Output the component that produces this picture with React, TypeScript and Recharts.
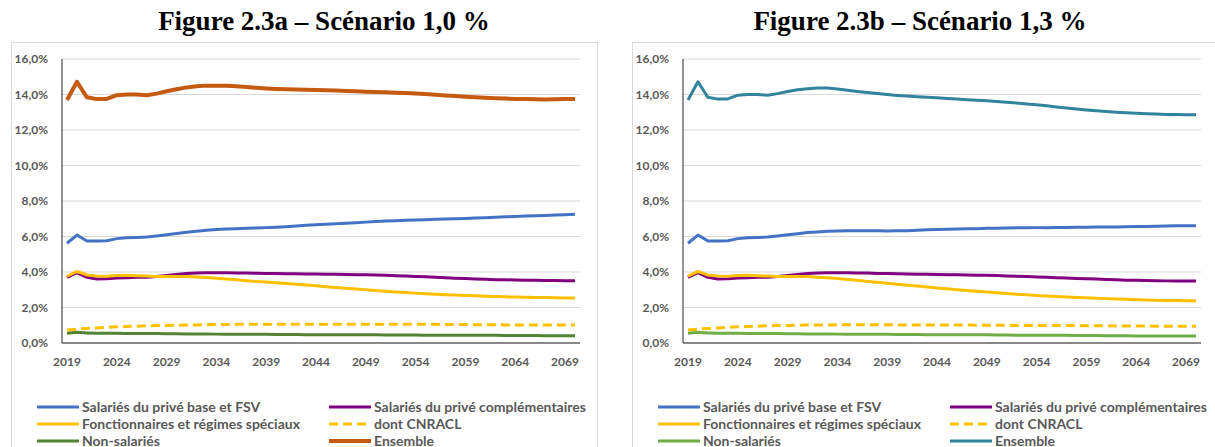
import { CartesianGrid, Legend, Line, LineChart, XAxis, YAxis } from 'recharts'

// years 2019-2070, one point per year
const years = [
  '2019', '2020', '2021', '2022', '2023', '2024', '2025', '2026', '2027', '2028',
  '2029', '2030', '2031', '2032', '2033', '2034', '2035', '2036', '2037', '2038',
  '2039', '2040', '2041', '2042', '2043', '2044', '2045', '2046', '2047', '2048',
  '2049', '2050', '2051', '2052', '2053', '2054', '2055', '2056', '2057', '2058',
  '2059', '2060', '2061', '2062', '2063', '2064', '2065', '2066', '2067', '2068',
  '2069', '2070',
]

const yTicks = [0, 2, 4, 6, 8, 10, 12, 14, 16]

// Scénario 1,0 %
const baseA = [
  5.62, 6.08, 5.75, 5.75, 5.76, 5.88, 5.93, 5.95, 5.97, 6.03,
  6.1, 6.17, 6.24, 6.3, 6.35, 6.39, 6.42, 6.44, 6.46, 6.48,
  6.5, 6.52, 6.55, 6.59, 6.63, 6.66, 6.69, 6.72, 6.75, 6.78,
  6.81, 6.84, 6.87, 6.89, 6.91, 6.93, 6.95, 6.97, 6.99, 7.0,
  7.02, 7.04, 7.06, 7.08, 7.11, 7.13, 7.15, 7.17, 7.19, 7.21,
  7.23, 7.25,
]
const complA = [
  3.7, 3.96, 3.7, 3.6, 3.62, 3.66, 3.68, 3.7, 3.7, 3.74,
  3.8, 3.86, 3.91, 3.94, 3.96, 3.96, 3.96, 3.95, 3.94, 3.93,
  3.92, 3.91, 3.9, 3.9, 3.89, 3.89, 3.88, 3.87, 3.86, 3.85,
  3.84, 3.83, 3.81, 3.79, 3.77, 3.75, 3.73, 3.7, 3.67, 3.65,
  3.63, 3.61, 3.59, 3.57, 3.56, 3.55, 3.54, 3.53, 3.52, 3.52,
  3.51, 3.51,
]
const fonctA = [
  3.76, 4.04, 3.83, 3.78, 3.76, 3.8, 3.81, 3.79, 3.77, 3.75,
  3.74, 3.74, 3.74, 3.72, 3.69, 3.65, 3.61, 3.56, 3.51, 3.47,
  3.43, 3.39, 3.35, 3.31, 3.27, 3.22, 3.17, 3.13, 3.08, 3.04,
  3.0, 2.96, 2.92, 2.88, 2.84, 2.81, 2.78, 2.75, 2.72, 2.7,
  2.68, 2.66, 2.64, 2.62, 2.6, 2.59, 2.58, 2.57, 2.56, 2.55,
  2.54, 2.54,
]
const cnraclA = [
  0.73, 0.78, 0.82, 0.85, 0.88, 0.91, 0.93, 0.95, 0.97, 0.98,
  0.99, 1.0, 1.01, 1.02, 1.03, 1.04, 1.04, 1.05, 1.05, 1.05,
  1.06, 1.06, 1.06, 1.06, 1.06, 1.06, 1.06, 1.06, 1.06, 1.06,
  1.06, 1.06, 1.06, 1.06, 1.05, 1.05, 1.05, 1.05, 1.04, 1.04,
  1.04, 1.03, 1.03, 1.03, 1.02, 1.02, 1.02, 1.02, 1.01, 1.01,
  1.01, 1.01,
]
const nonSalA = [
  0.55, 0.6, 0.57, 0.55, 0.55, 0.55, 0.54, 0.54, 0.53, 0.53,
  0.52, 0.52, 0.51, 0.51, 0.51, 0.5, 0.5, 0.5, 0.49, 0.49,
  0.49, 0.48, 0.48, 0.48, 0.47, 0.47, 0.47, 0.47, 0.46, 0.46,
  0.46, 0.46, 0.45, 0.45, 0.45, 0.45, 0.44, 0.44, 0.44, 0.44,
  0.43, 0.43, 0.43, 0.43, 0.42, 0.42, 0.42, 0.42, 0.41, 0.41,
  0.41, 0.41,
]
const ensA = [
  13.69, 14.72, 13.84, 13.74, 13.75, 13.96, 14.0, 14.0, 13.96, 14.05,
  14.18, 14.3, 14.4, 14.46, 14.5, 14.5, 14.49, 14.46, 14.42, 14.38,
  14.34, 14.31, 14.29, 14.28, 14.27, 14.26, 14.24, 14.22, 14.2, 14.18,
  14.16, 14.14, 14.12, 14.1, 14.08, 14.06, 14.03, 13.99, 13.95, 13.91,
  13.88, 13.85, 13.82, 13.79, 13.77, 13.75, 13.74, 13.73, 13.72, 13.73,
  13.74, 13.75,
]

// Scénario 1,3 %
const baseB = [
  5.62, 6.08, 5.75, 5.75, 5.76, 5.88, 5.93, 5.95, 5.97, 6.03,
  6.1, 6.16, 6.22, 6.26, 6.29, 6.31, 6.32, 6.33, 6.33, 6.32,
  6.31, 6.32, 6.33, 6.35, 6.38, 6.4, 6.41, 6.42, 6.43, 6.44,
  6.46, 6.47, 6.48, 6.49, 6.49, 6.5, 6.5, 6.51, 6.51, 6.52,
  6.52, 6.53, 6.54, 6.54, 6.55, 6.56, 6.57, 6.58, 6.59, 6.6,
  6.6, 6.61,
]
const complB = [
  3.7, 3.96, 3.7, 3.6, 3.62, 3.66, 3.68, 3.7, 3.7, 3.74,
  3.8, 3.86, 3.91, 3.94, 3.96, 3.96, 3.96, 3.95, 3.94, 3.92,
  3.91, 3.9, 3.89, 3.88, 3.87, 3.86, 3.85, 3.84, 3.83, 3.82,
  3.81, 3.8, 3.78, 3.76, 3.74, 3.72, 3.7, 3.68, 3.66, 3.64,
  3.62, 3.6, 3.58, 3.56, 3.54, 3.53, 3.52, 3.51, 3.5, 3.5,
  3.49, 3.49,
]
const fonctB = [
  3.76, 4.04, 3.83, 3.78, 3.76, 3.8, 3.81, 3.79, 3.77, 3.75,
  3.74, 3.74, 3.74, 3.71, 3.68, 3.63, 3.58, 3.53, 3.47, 3.42,
  3.37, 3.31, 3.26, 3.21, 3.15, 3.1, 3.05, 3.0, 2.96, 2.91,
  2.87, 2.83, 2.79, 2.75, 2.72, 2.68, 2.65, 2.62, 2.59, 2.57,
  2.55, 2.52, 2.5, 2.48, 2.46, 2.44, 2.42, 2.41, 2.4, 2.39,
  2.38, 2.38,
]
const cnraclB = [
  0.73, 0.78, 0.82, 0.85, 0.88, 0.91, 0.93, 0.95, 0.97, 0.98,
  0.99, 1.0, 1.01, 1.02, 1.02, 1.03, 1.03, 1.03, 1.03, 1.03,
  1.03, 1.02, 1.02, 1.02, 1.02, 1.01, 1.01, 1.01, 1.01, 1.0,
  1.0, 1.0, 1.0, 0.99, 0.99, 0.99, 0.99, 0.98, 0.98, 0.98,
  0.97, 0.97, 0.97, 0.96, 0.96, 0.96, 0.96, 0.95, 0.95, 0.95,
  0.95, 0.95,
]
const nonSalB = [
  0.55, 0.6, 0.57, 0.55, 0.55, 0.55, 0.54, 0.54, 0.53, 0.53,
  0.52, 0.52, 0.51, 0.51, 0.51, 0.5, 0.5, 0.5, 0.49, 0.49,
  0.49, 0.48, 0.48, 0.48, 0.47, 0.47, 0.47, 0.47, 0.46, 0.46,
  0.46, 0.45, 0.45, 0.44, 0.44, 0.44, 0.43, 0.43, 0.43, 0.42,
  0.42, 0.42, 0.41, 0.41, 0.41, 0.4, 0.4, 0.4, 0.4, 0.39,
  0.39, 0.39,
]
const ensB = [
  13.69, 14.72, 13.84, 13.74, 13.75, 13.96, 14.0, 14.0, 13.96, 14.05,
  14.17, 14.27, 14.33, 14.37, 14.36, 14.31, 14.24, 14.17, 14.11, 14.05,
  14.0, 13.95, 13.91, 13.88, 13.85, 13.82, 13.78, 13.74, 13.71, 13.68,
  13.65, 13.61, 13.57, 13.52, 13.47, 13.42, 13.36, 13.3, 13.24, 13.18,
  13.13, 13.08, 13.04, 13.0, 12.97, 12.94, 12.92, 12.9, 12.88, 12.87,
  12.86, 12.86,
]

type Series = {
  key: string
  name: string
  color: string
  width: number
  dash?: string
}

const labels = {
  base: 'Salariés du privé base et FSV',
  compl: 'Salariés du privé complémentaires',
  fonct: 'Fonctionnaires et régimes spéciaux',
  cnracl: 'dont CNRACL',
  nonSal: 'Non-salariés',
  ens: 'Ensemble',
}

const seriesA: Series[] = [
  { key: 'base', name: labels.base, color: '#4472C4', width: 3 },
  { key: 'compl', name: labels.compl, color: '#800080', width: 3 },
  { key: 'fonct', name: labels.fonct, color: '#FFC000', width: 3 },
  { key: 'cnracl', name: labels.cnracl, color: '#FFC000', width: 3, dash: '9 5' },
  { key: 'nonSal', name: labels.nonSal, color: '#548235', width: 3 },
  { key: 'ens', name: labels.ens, color: '#C55A11', width: 4 },
]

const seriesB: Series[] = [
  { key: 'base', name: labels.base, color: '#4472C4', width: 3 },
  { key: 'compl', name: labels.compl, color: '#800080', width: 3 },
  { key: 'fonct', name: labels.fonct, color: '#FFC000', width: 3 },
  { key: 'cnracl', name: labels.cnracl, color: '#FFC000', width: 3, dash: '9 5' },
  { key: 'nonSal', name: labels.nonSal, color: '#70AD47', width: 3 },
  { key: 'ens', name: labels.ens, color: '#31849B', width: 3 },
]

const dataA = years.map((year, i) => ({
  year,
  base: baseA[i],
  compl: complA[i],
  fonct: fonctA[i],
  cnracl: cnraclA[i],
  nonSal: nonSalA[i],
  ens: ensA[i],
}))

const dataB = years.map((year, i) => ({
  year,
  base: baseB[i],
  compl: complB[i],
  fonct: fonctB[i],
  cnracl: cnraclB[i],
  nonSal: nonSalB[i],
  ens: ensB[i],
}))

const FONT = 'Lato, "Open Sans", sans-serif'
const GREY = '#595959'

const pct = (v: number) => `${v.toFixed(1).replace('.', ',')}%`

function ChartLegend({ series }: { series: Series[] }) {
  return (
    <div
      style={{
        height: 70,
        paddingTop: 6,
        paddingLeft: 26,
        boxSizing: 'border-box',
        display: 'grid',
        gridTemplateColumns: '292px 270px',
        gridAutoRows: '17px',
        fontFamily: FONT,
        fontWeight: 700,
        fontSize: 14,
        lineHeight: '17px',
        color: GREY,
      }}
    >
      {series.map((s) => (
        <div key={s.key} style={{ display: 'flex', alignItems: 'center', whiteSpace: 'nowrap' }}>
          <svg width={42} height={8} style={{ marginRight: 3, flex: 'none' }}>
            <line
              x1={0}
              y1={4}
              x2={42}
              y2={4}
              stroke={s.color}
              strokeWidth={s.width}
              strokeDasharray={s.dash}
            />
          </svg>
          <span>{s.name}</span>
        </div>
      ))}
    </div>
  )
}

function Panel({
  left,
  title,
  titleCenter,
  data,
  series,
}: {
  left: number
  title: string
  titleCenter: number
  data: typeof dataA
  series: Series[]
}) {
  return (
    <>
      <div
        style={{
          position: 'absolute',
          left: titleCenter - 250,
          top: 8,
          width: 500,
          textAlign: 'center',
          fontFamily: '"Liberation Serif", "Times New Roman", serif',
          fontWeight: 700,
          fontSize: 27,
          lineHeight: '27px',
          color: '#000',
        }}
      >
        {title}
      </div>
      <div
        style={{
          position: 'absolute',
          left,
          top: 42,
          width: 587,
          height: 430,
          border: '1px solid #D9D9D9',
          boxSizing: 'border-box',
        }}
      />
      <div style={{ position: 'absolute', left, top: 42 }}>
        <LineChart width={587} height={420} data={data} margin={{ top: 17, right: 18, left: 0, bottom: 0 }}>
          <CartesianGrid vertical={false} stroke="#D9D9D9" />
          <XAxis
            dataKey="year"
            interval={4}
            padding={{ left: 5, right: 5 }}
            tickLine={false}
            tickSize={0}
            tickMargin={14}
            height={49}
            axisLine={{ stroke: '#262626' }}
            tick={{ fill: GREY, fontSize: 12, fontWeight: 700, fontFamily: FONT }}
          />
          <YAxis
            domain={[0, 16]}
            ticks={yTicks}
            tickFormatter={pct}
            width={51}
            tickLine={false}
            tickSize={0}
            tickMargin={14}
            axisLine={{ stroke: '#262626' }}
            tick={{ fill: GREY, fontSize: 12, fontWeight: 700, fontFamily: FONT }}
          />
          <Legend
            verticalAlign="bottom"
            align="left"
            wrapperStyle={{ left: 0, width: 587 }}
            content={() => <ChartLegend series={series} />}
          />
          {series.map((s) => (
            <Line
              key={s.key}
              type="linear"
              dataKey={s.key}
              name={s.name}
              stroke={s.color}
              strokeWidth={s.width}
              strokeDasharray={s.dash}
              strokeLinejoin="round"
              dot={false}
              activeDot={false}
              isAnimationActive={false}
            />
          ))}
        </LineChart>
      </div>
    </>
  )
}

export default function App() {
  return (
    <div
      style={{
        position: 'absolute',
        left: 0,
        top: 0,
        width: 1215,
        height: 447,
        overflow: 'hidden',
        background: '#fff',
      }}
    >
      <Panel left={11} title="Figure 2.3a – Scénario 1,0 %" titleCenter={324} data={dataA} series={seriesA} />
      <Panel left={632} title="Figure 2.3b – Scénario 1,3 %" titleCenter={920} data={dataB} series={seriesB} />
    </div>
  )
}
